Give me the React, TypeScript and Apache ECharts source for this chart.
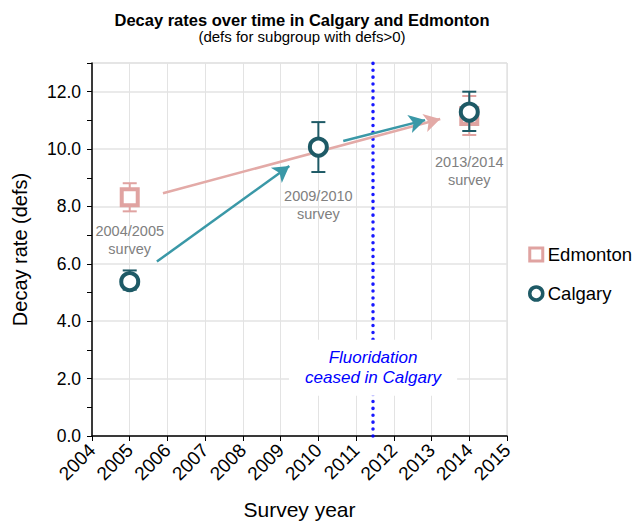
import React, { useEffect, useRef } from "react";
import * as echarts from "echarts";

// ---- data ----
const calgaryYears = [2005, 2010, 2014];
const calgaryMean = [5.38, 10.07, 11.29];
const calgaryLow = [5.1, 9.2, 10.63];
const calgaryHigh = [5.77, 10.94, 12.0];

const edmontonYears = [2005, 2014];
const edmontonMean = [8.32, 11.15];
const edmontonLow = [7.83, 10.49];
const edmontonHigh = [8.81, 11.85];

// trend arrows [start, end] in data units
const edmontonArrows = [[[2005.88, 8.46], [2013.23, 11.05]]];
const calgaryArrows = [
  [[2005.72, 6.08], [2009.23, 9.41]],
  [[2010.66, 10.28], [2012.83, 11.01]],
];

const surveyLabels = ["2004/2005\nsurvey", "2009/2010\nsurvey", "2013/2014\nsurvey"];
const surveyLabelAnchors = [[2005, 6.82], [2010, 8.04], [2014, 9.23]];

const fluoridationYear = 2011.45;
const fluoridationText = "Fluoridation\nceased in Calgary";
const fluoridationAnchor = [2011.45, 2.38];

const xMin = 2004, xMax = 2015;
const yMin = 0, yMax = 13;

const PINK = "#e0a3a1";
const PINK_ARROW = "#e3aaa7";
const TEAL = "#1e5a66";
const TEAL_ARROW = "#3a98a7";
const BLUE = "#0000ff";

function errorBar(color: string) {
  return (params: any, api: any) => {
    const x = api.value(0);
    const top = api.coord([x, api.value(2)]);
    const bot = api.coord([x, api.value(1)]);
    const w = 7;
    const st = { stroke: color, lineWidth: 2 };
    return {
      type: "group",
      children: [
        { type: "line", shape: { x1: top[0], y1: top[1], x2: bot[0], y2: bot[1] }, style: st },
        { type: "line", shape: { x1: top[0] - w, y1: top[1], x2: top[0] + w, y2: top[1] }, style: st },
        { type: "line", shape: { x1: bot[0] - w, y1: bot[1], x2: bot[0] + w, y2: bot[1] }, style: st },
      ],
    };
  };
}

export default function App() {
  const ref = useRef<HTMLDivElement>(null);
  useEffect(() => {
    const chart = echarts.init(ref.current!, null, { renderer: "svg" });
    const font = "Liberation Sans, Arial, sans-serif";
    chart.setOption({
      animation: false,
      textStyle: { fontFamily: font },
      title: {
        text: "Decay rates over time in Calgary and Edmonton",
        subtext: "(defs for subgroup with defs>0)",
        left: 297,
        textAlign: "center",
        top: 6,
        itemGap: 1,
        textStyle: { fontSize: 16.5, fontWeight: "bold", color: "#000", fontFamily: font },
        subtextStyle: { fontSize: 15, color: "#000", fontFamily: font },
      },
      legend: {
        orient: "vertical",
        left: 523,
        top: 240,
        itemGap: 20,
        itemWidth: 13,
        itemHeight: 13,
        textStyle: { fontSize: 18.5, color: "#000", fontFamily: font },
        data: [
          { name: "Edmonton", icon: "rect", itemStyle: { color: "#fff", borderColor: PINK, borderWidth: 3 } },
          { name: "Calgary", icon: "circle", itemStyle: { color: "#fff", borderColor: TEAL, borderWidth: 3.5 } },
        ],
      },
      grid: {
        left: 92,
        right: 131,
        top: 63,
        bottom: 88,
        show: true,
        borderColor: "#d4d4d4",
        borderWidth: 1,
        outerBoundsMode: "none",
        containLabel: false,
      },
      xAxis: {
        type: "value",
        min: xMin,
        max: xMax,
        interval: 1,
        name: "Survey year",
        nameLocation: "middle",
        nameGap: 63,
        nameTextStyle: { fontSize: 21, color: "#000", fontFamily: font },
        axisLine: { show: true, lineStyle: { color: "#000", width: 1.5 } },
        axisTick: { show: true, length: 5, lineStyle: { color: "#000" } },
        axisLabel: { rotate: 45, fontSize: 19, color: "#000", margin: 11, formatter: (v: number) => String(v) },
        splitLine: { show: true, lineStyle: { color: "#e3e3e3", width: 1 } },
      },
      yAxis: [
        {
          type: "value",
          min: yMin,
          max: yMax,
          interval: 1,
          name: "Decay rate (defs)",
          nameLocation: "middle",
          nameGap: 62,
          nameTextStyle: { fontSize: 20, color: "#000", fontFamily: font },
          axisLine: { show: true, lineStyle: { color: "#000", width: 1.5 } },
          axisTick: { show: true, length: 5, lineStyle: { color: "#000" } },
          axisLabel: {
            fontSize: 17.5,
            color: "#000",
            margin: 11,
            formatter: (v: number) => (v % 2 === 0 && v < yMax ? v.toFixed(1) : ""),
          },
          splitLine: { show: false },
        },
        {
          type: "value",
          min: yMin,
          max: yMax,
          interval: 2,
          position: "left",
          axisLine: { show: false },
          axisTick: { show: false },
          axisLabel: { show: false },
          splitLine: { show: true, lineStyle: { color: "#e3e3e3", width: 1.5 } },
        },
      ],
      series: [
        {
          name: "Fluoridation line",
          type: "scatter",
          data: [],
          z: 3,
          markLine: {
            silent: true,
            symbol: ["none", "none"],
            label: { show: false },
            lineStyle: { color: BLUE, width: 3.5, type: [0.1, 6.8], cap: "round", opacity: 0.9 },
            data: [{ xAxis: fluoridationYear }],
          },
        },
        {
          name: "Arrows Edmonton",
          type: "scatter",
          data: [],
          z: 4,
          markLine: {
            silent: true,
            symbol: ["none", "arrow"],
            symbolSize: [14, 16],
            label: { show: false },
            lineStyle: { color: PINK_ARROW, width: 2.5, type: "solid" },
            data: edmontonArrows.map((a) => [{ coord: a[0] }, { coord: a[1] }]),
          },
        },
        {
          name: "Arrows Calgary",
          type: "scatter",
          data: [],
          z: 4,
          markLine: {
            silent: true,
            symbol: ["none", "arrow"],
            symbolSize: [14, 16],
            label: { show: false },
            lineStyle: { color: TEAL_ARROW, width: 2.5, type: "solid" },
            data: calgaryArrows.map((a) => [{ coord: a[0] }, { coord: a[1] }]),
          },
        },
        {
          name: "Edmonton err",
          type: "custom",
          z: 5,
          renderItem: errorBar(PINK),
          data: edmontonYears.map((y, i) => [y, edmontonLow[i], edmontonHigh[i]]),
        },
        {
          name: "Edmonton",
          type: "scatter",
          z: 6,
          symbol: "rect",
          symbolSize: 16,
          itemStyle: { color: "#fff", borderColor: PINK, borderWidth: 4, opacity: 1 },
          data: edmontonYears.map((y, i) => [y, edmontonMean[i]]),
        },
        {
          name: "Calgary err",
          type: "custom",
          z: 7,
          renderItem: errorBar(TEAL),
          data: calgaryYears.map((y, i) => [y, calgaryLow[i], calgaryHigh[i]]),
        },
        {
          name: "Calgary",
          type: "scatter",
          z: 8,
          symbol: "circle",
          symbolSize: 17,
          itemStyle: { color: "#fff", borderColor: TEAL, borderWidth: 4, opacity: 1 },
          data: calgaryYears.map((y, i) => [y, calgaryMean[i]]),
        },
        {
          name: "Survey labels",
          type: "scatter",
          z: 9,
          symbolSize: 0,
          silent: true,
          itemStyle: { opacity: 1 },
          data: surveyLabelAnchors.map((p, i) => ({ value: p, name: surveyLabels[i] })),
          label: {
            show: true,
            position: "inside",
            formatter: (p: any) => p.name,
            fontSize: 14.5,
            lineHeight: 18,
            color: "#808080",
            opacity: 1,
            align: "center",
            verticalAlign: "middle",
            fontFamily: font,
          },
        },
        {
          name: "Fluoridation label",
          type: "scatter",
          z: 10,
          symbolSize: 0,
          silent: true,
          itemStyle: { opacity: 1 },
          data: [{ value: fluoridationAnchor, name: fluoridationText }],
          label: {
            show: true,
            position: "inside",
            formatter: (p: any) => p.name,
            fontSize: 17,
            lineHeight: 20,
            fontStyle: "italic",
            color: BLUE,
            opacity: 1,
            align: "center",
            verticalAlign: "middle",
            backgroundColor: "#fff",
            padding: [8, 16, 8, 16],
            fontFamily: font,
          },
        },
      ],
    });
    return () => chart.dispose();
  }, []);
  return (
    <div
      ref={ref}
      style={{ position: "absolute", left: 0, top: 0, width: 638, height: 524 }}
    />
  );
}
